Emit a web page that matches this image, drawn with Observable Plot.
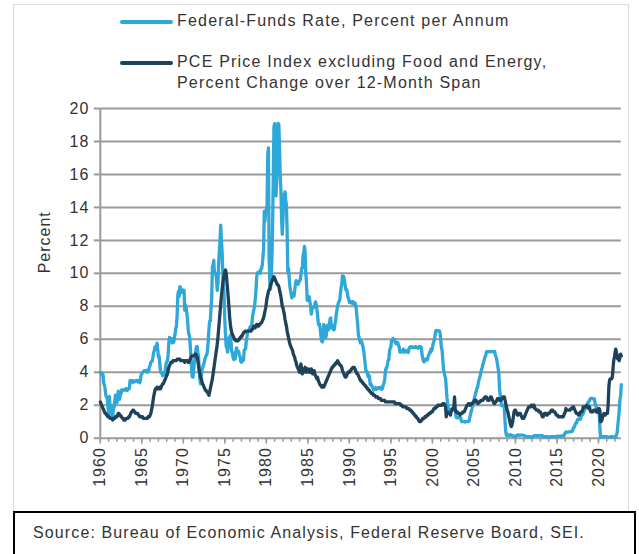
<!DOCTYPE html>
<html>
<head>
<meta charset="utf-8">
<script src="https://cdn.jsdelivr.net/npm/d3@7"></script>
<script src="https://cdn.jsdelivr.net/npm/@observablehq/plot@0.6"></script>
<style>
  html, body { margin: 0; padding: 0; background: #fff; }
  body { width: 639px; height: 554px; position: relative; overflow: hidden;
         font-family: "Liberation Sans", Arial, sans-serif; color: #333; }
  #frame { position: absolute; left: 13px; top: 4px; width: 614px; height: 508px;
           border: 1px solid #d9d9d9; border-bottom: none; }
  #legend { position: absolute; left: 0; top: 0; width: 639px; height: 100px; }
  .lg { position: absolute; left: 120px; display: flex; align-items: flex-start; }
  .sw { width: 53px; height: 3.5px; margin-top: 10px; margin-right: 4px; border-radius: 2px; }
  .lt { font-size: 16px; letter-spacing: 1.2px; line-height: 21px; color: #333; }
  #chart { position: absolute; left: 0; top: 95px; }
  #source { position: absolute; left: 13px; top: 511px; width: 623px; height: 60px;
            border: 2px solid #000; box-sizing: border-box; }
  #source span { position: absolute; left: 18px; top: 11px; font-size: 16px;
                 letter-spacing: 1.12px; color: #333; }
</style>
</head>
<body>
<div id="frame"></div>
<div id="legend"></div>
<div id="chart"></div>
<div id="source"><span></span></div>
<script>
// ---- data (monthly, starting January 1960) ----
const startYear = 1960;
const seriesNames = ["Federal-Funds Rate, Percent per Annum",
  "PCE Price Index excluding Food and Energy,\nPercent Change over 12-Month Span"];
const seriesColors = ["#2ea7d9", "#1e4259"];
const sourceText = "Source: Bureau of Economic Analysis, Federal Reserve Board, SEI.";
const yTicks = [0, 2, 4, 6, 8, 10, 12, 14, 16, 18, 20];
const xLabelYears = [1960, 1965, 1970, 1975, 1980, 1985, 1990, 1995, 2000, 2005, 2010, 2015, 2020];
const xMinorYears = d3.range(1960, 2023);
const yLabel = "Percent";

const fedFunds = [
 3.99,3.97,3.84,3.92,3.85,3.32,3.23,2.98,2.60,2.47,2.44,1.98,
 1.45,2.54,2.02,1.49,1.98,1.73,1.16,2.00,1.88,2.26,2.61,2.33,
 2.15,2.37,2.85,2.78,2.36,2.68,2.71,2.93,2.90,2.90,2.94,2.93,
 2.92,3.00,2.98,2.90,3.00,2.99,3.02,3.49,3.48,3.50,3.48,3.38,
 3.48,3.48,3.43,3.47,3.50,3.50,3.42,3.50,3.45,3.36,3.52,3.85,
 3.90,3.98,4.04,4.09,4.10,4.04,4.09,4.12,4.01,4.08,4.10,4.32,
 4.42,4.60,4.65,4.67,4.90,5.17,5.30,5.53,5.40,5.53,5.76,5.40,
 4.94,5.00,4.53,4.05,3.94,3.98,3.79,3.90,3.99,3.88,4.13,4.51,
 4.61,4.71,5.05,5.76,6.11,6.07,6.02,6.03,5.78,5.91,5.82,6.02,
 6.30,6.64,6.79,7.41,8.67,8.90,8.61,9.19,9.15,9.00,8.85,8.97,
 8.98,8.98,7.76,8.10,7.94,7.60,7.21,6.61,6.29,6.20,5.60,4.90,
 4.14,3.72,3.71,4.16,4.63,4.91,5.31,5.56,5.55,5.20,4.91,4.14,
 3.50,3.29,3.83,4.17,4.27,4.46,4.55,4.80,4.87,5.04,5.06,5.33,
 5.94,6.58,7.09,7.12,7.84,8.49,10.40,10.50,10.78,10.01,10.03,9.95,
 9.65,8.97,9.35,10.51,11.31,11.93,12.92,12.01,11.34,10.06,9.45,8.53,
 7.13,6.24,5.54,5.49,5.22,5.55,6.10,6.14,6.24,5.82,5.22,5.20,
 4.87,4.77,4.84,4.82,5.29,5.48,5.31,5.29,5.25,5.03,4.95,4.65,
 4.61,4.68,4.69,4.73,5.35,5.39,5.42,5.90,6.14,6.47,6.51,6.56,
 6.70,6.78,6.79,6.89,7.36,7.60,7.81,8.04,8.45,8.96,9.76,10.03,
 10.07,10.06,10.09,10.01,10.24,10.29,10.47,10.94,11.43,13.77,13.18,13.78,
 13.82,14.13,17.19,17.61,10.98,9.47,9.03,9.61,10.87,12.81,15.85,18.90,
 19.08,15.93,14.70,15.72,18.52,19.10,19.04,17.82,15.87,15.08,13.31,12.37,
 13.22,14.78,14.68,14.94,14.45,14.15,12.59,10.12,10.31,9.71,9.20,8.95,
 8.68,8.51,8.77,8.80,8.63,8.98,9.37,9.56,9.45,9.48,9.34,9.47,
 9.56,9.59,9.91,10.29,10.32,11.06,11.23,11.64,11.30,9.99,9.43,8.38,
 8.35,8.50,8.58,8.27,7.97,7.53,7.88,7.90,7.92,7.99,8.05,8.27,
 8.14,7.86,7.48,6.99,6.85,6.92,6.56,6.17,5.89,5.85,6.04,6.91,
 6.43,6.10,6.13,6.37,6.85,6.73,6.58,6.73,7.22,7.29,6.69,6.77,
 6.83,6.58,6.58,6.87,7.09,7.51,7.75,8.01,8.19,8.30,8.35,8.76,
 9.12,9.36,9.85,9.84,9.81,9.53,9.24,8.99,9.02,8.84,8.55,8.45,
 8.23,8.24,8.28,8.26,8.18,8.29,8.15,8.13,8.20,8.11,7.81,7.31,
 6.91,6.25,6.12,5.91,5.78,5.90,5.82,5.66,5.45,5.21,4.81,4.43,
 4.03,4.06,3.98,3.73,3.82,3.76,3.25,3.30,3.22,3.10,3.09,2.92,
 3.02,3.03,3.07,2.96,3.00,3.04,3.06,3.03,3.09,2.99,3.02,2.96,
 3.05,3.25,3.34,3.56,4.01,4.25,4.26,4.47,4.73,4.76,5.29,5.45,
 5.53,5.92,5.98,6.05,6.01,6.00,5.85,5.74,5.80,5.76,5.80,5.60,
 5.56,5.22,5.31,5.22,5.24,5.27,5.40,5.22,5.30,5.24,5.31,5.29,
 5.25,5.19,5.39,5.51,5.50,5.56,5.52,5.54,5.54,5.50,5.52,5.50,
 5.56,5.51,5.49,5.45,5.49,5.56,5.54,5.55,5.51,5.07,4.83,4.68,
 4.63,4.76,4.81,4.74,4.74,4.76,4.99,5.07,5.22,5.20,5.42,5.30,
 5.45,5.73,5.85,6.02,6.27,6.53,6.54,6.50,6.52,6.51,6.51,6.40,
 5.98,5.49,5.31,4.80,4.21,3.97,3.77,3.65,3.07,2.49,2.09,1.82,
 1.73,1.74,1.73,1.75,1.75,1.75,1.73,1.74,1.75,1.75,1.34,1.24,
 1.24,1.26,1.25,1.26,1.26,1.22,1.01,1.03,1.01,1.01,1.00,0.98,
 1.00,1.01,1.00,1.00,1.00,1.03,1.26,1.43,1.61,1.76,1.93,2.16,
 2.28,2.50,2.63,2.79,3.00,3.04,3.26,3.50,3.62,3.78,4.00,4.16,
 4.29,4.49,4.59,4.79,4.94,4.99,5.24,5.25,5.25,5.25,5.25,5.24,
 5.25,5.26,5.26,5.25,5.25,5.25,5.26,5.02,4.94,4.76,4.49,4.24,
 3.94,2.98,2.61,2.28,1.98,2.00,2.01,2.00,1.81,0.97,0.39,0.16,
 0.15,0.22,0.18,0.15,0.18,0.21,0.16,0.16,0.15,0.12,0.12,0.12,
 0.11,0.13,0.16,0.20,0.20,0.18,0.18,0.19,0.19,0.19,0.19,0.18,
 0.17,0.16,0.14,0.10,0.09,0.09,0.07,0.10,0.08,0.07,0.08,0.07,
 0.08,0.10,0.13,0.14,0.16,0.16,0.16,0.13,0.14,0.16,0.16,0.16,
 0.14,0.15,0.14,0.15,0.11,0.09,0.09,0.08,0.08,0.09,0.08,0.09,
 0.07,0.07,0.08,0.09,0.09,0.10,0.09,0.09,0.09,0.09,0.09,0.12,
 0.11,0.11,0.11,0.12,0.12,0.13,0.13,0.14,0.14,0.12,0.12,0.24,
 0.34,0.38,0.36,0.37,0.37,0.38,0.39,0.40,0.40,0.40,0.41,0.54,
 0.65,0.66,0.79,0.90,0.91,1.04,1.15,1.16,1.15,1.15,1.16,1.30,
 1.41,1.42,1.51,1.69,1.70,1.82,1.91,1.91,1.95,2.19,2.20,2.27,
 2.40,2.40,2.41,2.42,2.39,2.38,2.40,2.13,2.04,1.83,1.55,1.55,
 1.55,1.58,0.65,0.05,0.05,0.08,0.09,0.10,0.09,0.09,0.09,0.09,
 0.09,0.08,0.07,0.07,0.06,0.08,0.10,0.09,0.08,0.08,0.08,0.08,
 0.08,0.08,0.20,0.33,0.77,1.21,1.68,2.33,2.56,3.25
];

const corePce = [
 2.2,2.1,2.0,1.9,1.8,1.7,1.6,1.5,1.5,1.4,1.4,1.3,
 1.3,1.3,1.2,1.2,1.2,1.2,1.1,1.2,1.2,1.2,1.3,1.3,
 1.3,1.4,1.5,1.5,1.4,1.4,1.3,1.3,1.2,1.2,1.1,1.1,
 1.1,1.2,1.2,1.2,1.2,1.3,1.3,1.4,1.5,1.6,1.6,1.7,
 1.7,1.6,1.6,1.5,1.5,1.5,1.5,1.4,1.4,1.3,1.3,1.3,
 1.3,1.3,1.2,1.2,1.2,1.2,1.2,1.2,1.2,1.3,1.3,1.3,
 1.4,1.5,1.7,1.9,2.2,2.5,2.7,2.9,3.0,3.0,3.1,3.0,
 3.0,3.0,3.1,3.0,3.1,3.2,3.3,3.3,3.4,3.5,3.6,3.7,
 3.8,3.9,4.1,4.3,4.4,4.5,4.6,4.6,4.6,4.7,4.7,4.7,
 4.7,4.7,4.7,4.8,4.8,4.8,4.8,4.8,4.7,4.7,4.7,4.7,
 4.7,4.7,4.6,4.7,4.7,4.7,4.7,4.6,4.6,4.7,4.8,4.9,
 5.0,5.0,5.0,5.0,5.0,5.1,5.1,5.0,4.9,4.7,4.4,4.1,
 3.9,3.7,3.6,3.4,3.3,3.2,3.1,3.0,2.9,2.9,2.8,2.8,
 2.7,2.6,2.8,3.0,3.2,3.4,3.6,3.9,4.2,4.5,4.8,5.1,
 5.4,5.7,6.1,6.6,7.1,7.6,8.1,8.6,9.0,9.4,9.7,9.9,
 10.1,10.2,10.0,9.5,9.0,8.5,7.9,7.3,6.9,6.6,6.4,6.3,
 6.2,6.1,6.0,6.0,5.9,5.9,5.9,5.9,6.0,6.0,6.1,6.1,
 6.2,6.2,6.3,6.4,6.4,6.5,6.5,6.5,6.5,6.5,6.5,6.5,
 6.5,6.5,6.5,6.6,6.6,6.7,6.8,6.8,6.7,6.8,6.9,6.9,
 6.8,6.8,6.9,6.9,7.0,7.0,7.1,7.2,7.3,7.5,7.7,7.9,
 8.2,8.5,8.7,8.9,9.0,9.1,9.3,9.4,9.5,9.6,9.7,9.8,
 9.7,9.6,9.5,9.4,9.3,9.3,9.2,9.0,8.8,8.6,8.3,8.0,
 7.9,7.7,7.5,7.2,7.0,6.8,6.5,6.3,6.1,5.9,5.7,5.6,
 5.5,5.4,5.3,5.1,5.0,4.9,4.7,4.6,4.4,4.3,4.2,4.1,
 4.0,4.3,4.5,4.2,3.9,4.1,4.0,4.2,4.3,4.1,4.0,4.2,
 4.1,4.2,4.0,4.1,4.0,4.2,4.1,3.9,4.0,4.1,3.9,3.8,
 3.7,3.6,3.7,3.5,3.4,3.3,3.2,3.2,3.1,3.1,3.2,3.1,
 3.2,3.3,3.4,3.5,3.6,3.7,3.8,3.9,4.0,4.1,4.2,4.3,
 4.3,4.4,4.4,4.5,4.5,4.6,4.6,4.7,4.6,4.5,4.5,4.4,
 4.4,4.3,4.1,4.0,3.9,3.8,3.7,3.7,3.8,3.9,4.0,4.0,
 4.0,4.1,4.1,4.2,4.2,4.3,4.3,4.3,4.2,4.1,4.0,3.9,
 3.9,3.8,3.7,3.6,3.5,3.5,3.4,3.4,3.3,3.3,3.2,3.2,
 3.1,3.1,3.0,3.0,2.9,2.9,2.8,2.8,2.7,2.7,2.7,2.6,
 2.6,2.6,2.5,2.5,2.5,2.5,2.4,2.4,2.4,2.4,2.3,2.3,
 2.3,2.3,2.3,2.3,2.2,2.2,2.2,2.2,2.2,2.2,2.2,2.2,
 2.2,2.2,2.2,2.2,2.2,2.2,2.1,2.1,2.1,2.1,2.1,2.1,
 2.1,2.1,2.0,2.0,2.0,1.9,1.9,1.9,1.9,1.9,1.9,1.8,
 1.8,1.8,1.8,1.7,1.7,1.7,1.6,1.6,1.5,1.5,1.4,1.4,
 1.3,1.3,1.2,1.2,1.1,1.0,1.0,1.0,1.1,1.1,1.2,1.2,
 1.2,1.3,1.3,1.3,1.4,1.4,1.4,1.5,1.5,1.5,1.6,1.6,
 1.6,1.7,1.8,1.8,1.8,1.9,1.9,1.9,2.0,2.0,2.0,2.0,
 2.0,2.0,2.0,2.1,2.1,2.1,2.0,1.9,1.3,1.6,1.6,1.5,
 1.5,1.5,1.4,1.6,1.7,1.8,1.8,1.9,2.5,1.7,1.6,1.6,
 1.6,1.5,1.5,1.5,1.4,1.5,1.5,1.5,1.6,1.6,1.6,1.7,
 1.8,1.9,2.0,2.0,2.1,2.1,2.0,2.0,2.1,2.1,2.1,2.2,
 2.2,2.3,2.2,2.3,2.2,2.2,2.1,2.2,2.2,2.2,2.3,2.3,
 2.3,2.3,2.4,2.4,2.5,2.5,2.5,2.4,2.3,2.3,2.3,2.4,
 2.5,2.5,2.4,2.3,2.2,2.1,2.1,2.2,2.2,2.3,2.4,2.4,
 2.4,2.3,2.3,2.3,2.4,2.4,2.5,2.5,2.5,2.3,2.1,1.9,
 1.7,1.6,1.4,1.2,1.0,0.8,0.7,0.8,1.0,1.3,1.6,1.7,
 1.7,1.6,1.5,1.4,1.4,1.5,1.5,1.5,1.4,1.3,1.2,1.2,
 1.2,1.3,1.4,1.5,1.6,1.7,1.8,1.9,1.9,1.9,1.9,2.0,
 2.0,1.9,2.0,2.0,1.8,1.8,1.7,1.7,1.7,1.7,1.6,1.6,
 1.6,1.5,1.4,1.3,1.3,1.4,1.5,1.5,1.5,1.4,1.4,1.5,
 1.5,1.5,1.6,1.6,1.7,1.7,1.7,1.6,1.6,1.6,1.5,1.4,
 1.4,1.4,1.3,1.3,1.3,1.3,1.3,1.3,1.3,1.3,1.4,1.5,
 1.6,1.8,1.7,1.7,1.7,1.7,1.7,1.7,1.8,1.8,1.8,1.9,
 1.9,1.8,1.7,1.6,1.5,1.5,1.5,1.4,1.4,1.5,1.6,1.6,
 1.6,1.7,1.9,1.9,1.9,1.9,1.9,2.0,1.9,1.9,1.8,1.9,
 1.7,1.6,1.6,1.6,1.6,1.7,1.7,1.7,1.7,1.6,1.6,1.6,
 1.8,1.8,1.7,1.0,1.0,1.1,1.3,1.4,1.5,1.4,1.4,1.5,
 1.5,1.5,2.0,3.1,3.5,3.6,3.6,3.6,3.7,4.2,4.7,4.9,
 5.2,5.4,5.2,4.9,4.8,5.0,4.7,4.9,5.1,5.0
];

// ---- build table ----
const rows = [];
fedFunds.forEach((v, i) => rows.push({date: startYear + i / 12, value: v, series: seriesNames[0]}));
corePce.forEach((v, i) => rows.push({date: startYear + i / 12, value: v, series: seriesNames[1]}));

// ---- legend ----
const legend = document.getElementById("legend");
const legendTops = [10, 51];
seriesNames.forEach((name, i) => {
  const row = document.createElement("div");
  row.className = "lg";
  row.style.top = legendTops[i] + "px";
  const sw = document.createElement("div");
  sw.className = "sw";
  sw.style.background = seriesColors[i];
  const t = document.createElement("div");
  t.className = "lt";
  t.innerHTML = name.split("\n").join("<br>");
  row.appendChild(sw); row.appendChild(t);
  legend.appendChild(row);
});
document.querySelector("#source span").textContent = sourceText;

// ---- chart ----
const gridColor = "#9a9a9a";
const chart = Plot.plot({
  width: 639,
  height: 400,
  marginLeft: 99.8,
  marginRight: 18.2,
  marginTop: 13,
  marginBottom: 57.3,
  style: {fontFamily: "'Liberation Sans', Arial, sans-serif", fontSize: "16px", color: "#333", letterSpacing: "1px", background: "transparent"},
  x: {domain: [1960, 2022.75]},
  y: {domain: [0, 20]},
  color: {domain: seriesNames, range: seriesColors},
  marks: [
    Plot.ruleY(yTicks, {stroke: gridColor, strokeWidth: 2}),
    Plot.ruleX([1960], {stroke: gridColor, strokeWidth: 2}),
    Plot.axisY({ticks: yTicks, tickSize: 6, tickPadding: 5, stroke: gridColor, strokeWidth: 2, strokeOpacity: 1, label: null, fill: "#333"}),
    Plot.axisX({ticks: xMinorYears, tickSize: 4, tickFormat: () => "", stroke: gridColor, strokeWidth: 1.5, strokeOpacity: 1, label: null}),
    Plot.axisX({ticks: xLabelYears, tickSize: 6, tickRotate: -90, tickPadding: 3, tickFormat: d => String(d), stroke: gridColor, strokeWidth: 1.5, strokeOpacity: 1, label: null, fill: "#333"}),
    Plot.lineY(rows, {x: "date", y: "value", z: "series", stroke: "series", strokeWidth: 3.3, strokeLinejoin: "round", strokeLinecap: "round"}),
    Plot.text([yLabel], {frameAnchor: "left", text: d => d, rotate: -90, dx: -55, fill: "#333", fontSize: 16})
  ]
});
document.getElementById("chart").appendChild(chart);
</script>
</body>
</html>
